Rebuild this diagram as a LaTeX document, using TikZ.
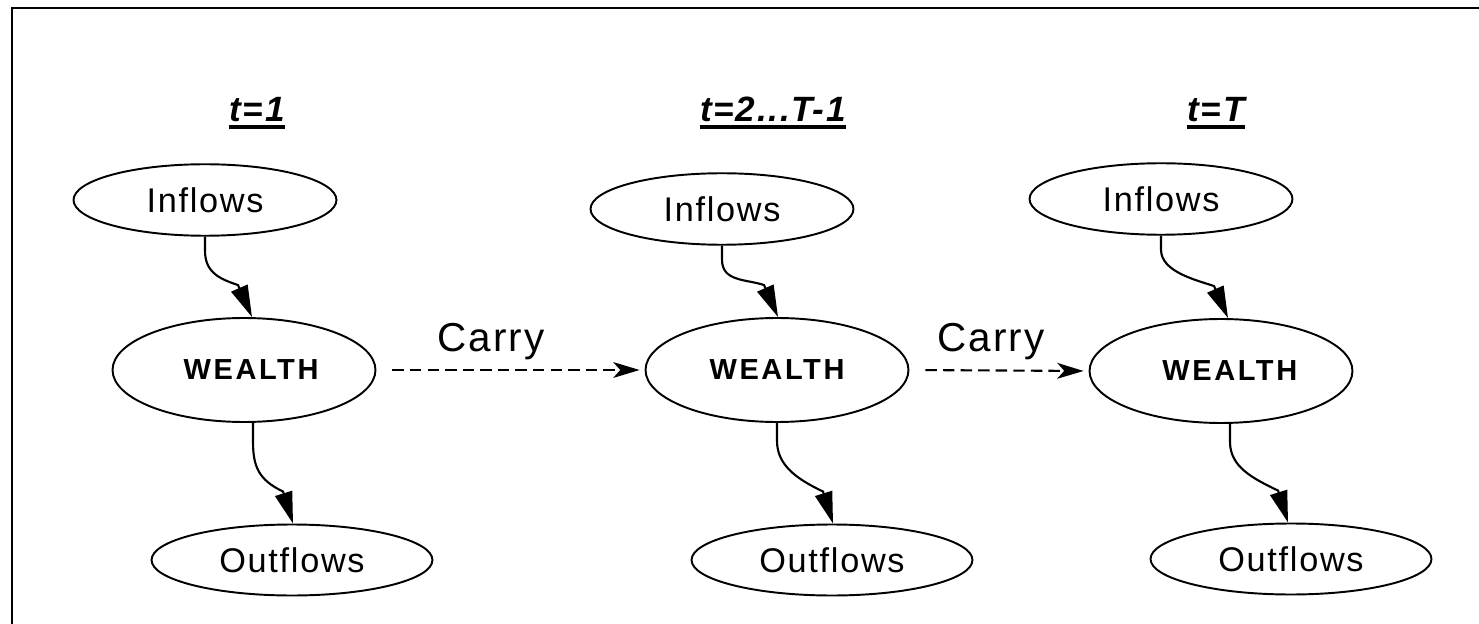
\documentclass[tikz,border=0pt]{standalone}
\usepackage{fontspec}
\setmainfont{Liberation Sans}
\newfontfamily\diagfont[LetterSpace=5]{Liberation Sans}
\newfontfamily\stockfont[LetterSpace=9]{Liberation Sans}
\usetikzlibrary{shapes.geometric, arrows.meta, positioning, calc}

\begin{document}
\begin{tikzpicture}[
    x=0.02cm, y=-0.02cm,
    every node/.style={font=\diagfont},
    >=Stealth,
    pool/.style={draw, ellipse, line width=1.1pt, inner sep=0pt, minimum width=#1,
                 font=\diagfont\fontsize{19.5}{22}\selectfont},
    inpool/.style={pool=5.26cm, minimum height=1.43cm},
    outpool/.style={pool=5.62cm, minimum height=1.42cm},
    stock/.style={draw, ellipse, line width=1.1pt, inner sep=0pt, minimum width=5.26cm, minimum height=2.08cm,
                  font=\stockfont\bfseries\fontsize{16.5}{19}\selectfont},
    period/.style={inner sep=0pt, anchor=base, font=\diagfont\bfseries\itshape\fontsize{20}{24}\selectfont},
    carrylbl/.style={inner sep=0pt, anchor=base, font=\diagfont\fontsize{23}{27}\selectfont},
    flow/.style={-{Triangle[length=18pt, width=10pt]}, line width=1.2pt},
    carry/.style={-{Stealth[length=15pt, width=9pt, inset=4pt]}, line width=1.2pt, dash pattern=on 6.5pt off 3.5pt,
                  shorten <=0.32cm, shorten >=0.1cm},
    underl/.style={line width=2.4pt},
]

\useasboundingbox (0,0) rectangle (1479,624);

% Frame
\draw[line width=1.4pt] (12,624) -- (12,8) -- (1479,8);

% Period titles
\node[period] (t1) at (257,122) {t=1};
\node[period] (t2) at (773,122) {t=2...T-1};
\node[period] (t3) at (1216,122) {t=T};
\foreach \c in {1,2,3} {
    \draw[underl] ([yshift=-2.8pt]t\c.base west) -- ([yshift=-2.8pt]t\c.base east);
}

% === Inflows ===
\node[inpool] (inf1) at (205,200) {Inflows};
\node[inpool] (inf2) at (722,209) {Inflows};
\node[inpool] (inf3) at (1161,199) {Inflows};

% === Wealth ===
\node[stock] (w1) at (244,370) {\hspace{8pt}WEALTH};
\node[stock] (w2) at (777,370) {WEALTH};
\node[stock] (w3) at (1221,371) {\hspace{10pt}WEALTH};

% === Outflows ===
\node[outpool] (out1) at (292,560) {Outflows};
\node[outpool] (out2) at (832,560) {Outflows};
\node[outpool] (out3) at (1291,559) {Outflows};

% Inflows into wealth
\foreach \c/\dx in {1/8, 2/1, 3/7} {
    \draw[flow] (inf\c.south) -- ++(0,14)
        .. controls +(0,22) and +(-18,-6) .. ([shift={(\dx-14,-32)}]w\c.north)
        -- ([shift={(\dx,0)}]w\c.north);
}

% Wealth into outflows
\foreach \c/\sx/\dx in {1/9/1, 2/0/1, 3/9/-3} {
    \draw[flow] ([shift={(\sx,0)}]w\c.south) -- ++(0,18)
        .. controls +(0,25) and +(-25,-12) .. ([shift={(\dx-10,-32)}]out\c.north)
        -- ([shift={(\dx,0)}]out\c.north);
}

% Carry over
\draw[carry] (w1.east) -- (w2.west);
\draw[carry] (w2.east) -- (w3.west);
\node[carrylbl] (c1) at (491,352) {Carry};
\node[carrylbl] (c2) at (991,352) {Carry};

\end{tikzpicture}
\end{document}
